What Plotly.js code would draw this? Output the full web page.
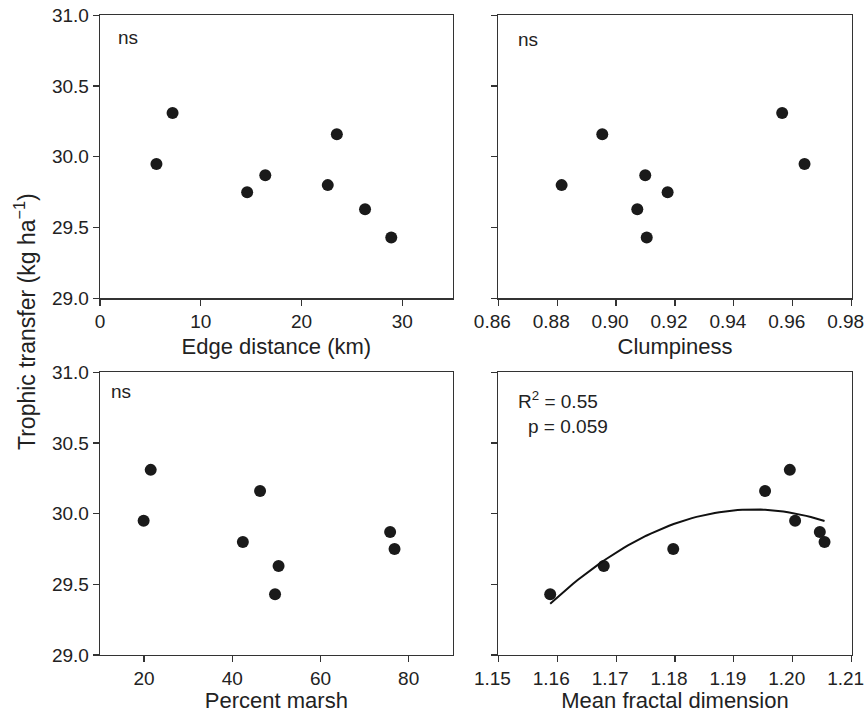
<!DOCTYPE html>
<html>
<head>
<meta charset="utf-8">
<script src="https://cdn.plot.ly/plotly-3.0.1.min.js"></script>
<style>html,body{margin:0;padding:0;background:#fff;}#chart{width:865px;height:713px;}</style>
</head>
<body>
<div id="chart"></div>
<script>
// Trophic transfer (kg ha^-1) for the 8 sites, paired with each landscape metric
const edgeDistance = [5.6, 7.2, 14.6, 16.4, 22.6, 23.5, 26.3, 28.9];
const edgeTransfer = [29.95, 30.31, 29.75, 29.87, 29.80, 30.16, 29.63, 29.43];

const clumpiness = [0.8815, 0.8953, 0.9099, 0.9175, 0.9072, 0.9104, 0.9564, 0.9640];
const clumpTransfer = [29.80, 30.16, 29.87, 29.75, 29.63, 29.43, 30.31, 29.95];

const percentMarsh = [21.5, 19.9, 46.3, 42.4, 50.5, 49.7, 75.8, 76.8];
const marshTransfer = [30.31, 29.95, 30.16, 29.80, 29.63, 29.43, 29.87, 29.75];

const fractalDim = [1.1588, 1.1679, 1.1797, 1.1953, 1.1995, 1.2004, 1.2046, 1.2054];
const fractalTransfer = [29.43, 29.63, 29.75, 30.16, 30.31, 29.95, 29.87, 29.80];

const yTicks = [29.0, 29.5, 30.0, 30.5, 31.0];
const edgeTicks = [0, 10, 20, 30];
const clumpTicks = [0.86, 0.88, 0.90, 0.92, 0.94, 0.96, 0.98];
const marshTicks = [20, 40, 60, 80];
const fractalTicks = [1.15, 1.16, 1.17, 1.18, 1.19, 1.20, 1.21];

// Quadratic least-squares fit of transfer on fractal dimension
function quadFit(xs, ys) {
  const n = xs.length;
  const xm = xs.reduce((a, b) => a + b, 0) / n;
  let S = [0,0,0,0,0], T = [0,0,0];
  for (let i = 0; i < n; i++) {
    const u = xs[i] - xm;
    for (let k = 0; k < 5; k++) S[k] += Math.pow(u, k);
    for (let k = 0; k < 3; k++) T[k] += ys[i] * Math.pow(u, k);
  }
  const A = [[S[0],S[1],S[2],T[0]],[S[1],S[2],S[3],T[1]],[S[2],S[3],S[4],T[2]]];
  for (let c = 0; c < 3; c++) {
    for (let r = c + 1; r < 3; r++) {
      const f = A[r][c] / A[c][c];
      for (let k = c; k < 4; k++) A[r][k] -= f * A[c][k];
    }
  }
  const b = [0,0,0];
  for (let r = 2; r >= 0; r--) {
    let s = A[r][3];
    for (let k = r + 1; k < 3; k++) s -= A[r][k] * b[k];
    b[r] = s / A[r][r];
  }
  return x => b[0] + b[1]*(x - xm) + b[2]*(x - xm)*(x - xm);
}
const fit = quadFit(fractalDim, fractalTransfer);
const fxMin = Math.min(...fractalDim), fxMax = Math.max(...fractalDim);
const fitX = [], fitY = [];
for (let i = 0; i <= 60; i++) {
  const x = fxMin + (fxMax - fxMin) * i / 60;
  fitX.push(x); fitY.push(fit(x));
}

const marker = {size: 12, color: '#1a1a1a'};
const traces = [
  {x: edgeDistance, y: edgeTransfer, xaxis: 'x', yaxis: 'y', mode: 'markers', type: 'scatter', marker: marker},
  {x: clumpiness, y: clumpTransfer, xaxis: 'x2', yaxis: 'y2', mode: 'markers', type: 'scatter', marker: marker},
  {x: percentMarsh, y: marshTransfer, xaxis: 'x3', yaxis: 'y3', mode: 'markers', type: 'scatter', marker: marker},
  {x: fractalDim, y: fractalTransfer, xaxis: 'x4', yaxis: 'y4', mode: 'markers', type: 'scatter', marker: marker},
  {x: fitX, y: fitY, xaxis: 'x4', yaxis: 'y4', mode: 'lines', type: 'scatter', line: {color: '#111', width: 2}}
];

const fam = 'Liberation Sans, Arial, sans-serif';
const tickFont = {family: fam, size: 19, color: '#222'};
const titleFont = {family: fam, size: 22, color: '#222'};
const annFont = {family: fam, size: 19, color: '#222'};

function xa(domain, range, tickvals, fmt, title, anchor, shift) {
  return {domain: domain, range: range, tickvals: tickvals, tickformat: fmt, anchor: anchor,
    showline: true, mirror: true, linecolor: '#333', linewidth: 1.3, ticks: 'outside', ticklen: 6,
    tickcolor: '#333', tickwidth: 1.2, showgrid: false, zeroline: false, tickfont: tickFont,
    ticklabeloverflow: 'allow', ticklabelshift: shift,
    title: {text: title, font: titleFont, standoff: 7}, fixedrange: true};
}
function ya(domain, labels, anchor) {
  return {domain: domain, range: [28.9999, 31.0001], tickvals: yTicks, tickformat: '.1f', anchor: anchor,
    showticklabels: labels, showline: true, mirror: true, linecolor: '#333', linewidth: 1.3,
    ticks: 'outside', ticklen: 6, tickcolor: '#333', tickwidth: 1.2, showgrid: false,
    zeroline: false, tickfont: tickFont, ticklabeloverflow: 'allow', fixedrange: true};
}

const xL = [0.1156, 0.5234], xR = [0.5761, 0.9846];
const yT = [0.5816, 0.9785], yB = [0.0813, 0.4778];

const layout = {
  width: 865, height: 713,
  margin: {l: 0, r: 0, t: 0, b: 0},
  paper_bgcolor: '#fff', plot_bgcolor: '#fff',
  showlegend: false,
  font: {family: fam, color: '#222'},
  xaxis: xa(xL, [0, 35], edgeTicks, 'd', 'Edge distance (km)', 'y', 0),
  yaxis: ya(yT, true, 'x'),
  xaxis2: xa(xR, [0.86, 0.98001], clumpTicks, '.2f', 'Clumpiness', 'y2', -6),
  yaxis2: ya(yT, false, 'x2'),
  xaxis3: xa(xL, [10, 90], marshTicks, 'd', 'Percent marsh', 'y3', 0),
  yaxis3: ya(yB, true, 'x3'),
  xaxis4: xa(xR, [1.14999, 1.21001], fractalTicks, '.2f', 'Mean fractal dimension', 'y4', -6),
  yaxis4: ya(yB, false, 'x4'),
  annotations: [
    {text: 'ns', xref: 'x domain', yref: 'y domain', x: 0.045, y: 0.923, xanchor: 'left', yanchor: 'middle', showarrow: false, font: annFont},
    {text: 'ns', xref: 'x2 domain', yref: 'y2 domain', x: 0.05, y: 0.916, xanchor: 'left', yanchor: 'middle', showarrow: false, font: annFont},
    {text: 'ns', xref: 'x3 domain', yref: 'y3 domain', x: 0.026, y: 0.931, xanchor: 'left', yanchor: 'middle', showarrow: false, font: annFont},
    {text: 'R<sup>2</sup> = 0.55', xref: 'x4 domain', yref: 'y4 domain', x: 0.05, y: 0.902, xanchor: 'left', yanchor: 'middle', showarrow: false, font: annFont},
    {text: 'p = 0.059', xref: 'x4 domain', yref: 'y4 domain', x: 0.078, y: 0.81, xanchor: 'left', yanchor: 'middle', showarrow: false, font: annFont},
    {text: 'Trophic transfer (kg ha<sup>\u22121</sup>)', xref: 'paper', yref: 'paper', x: 25/865, y: 1 - 322/713, xanchor: 'center', yanchor: 'middle', textangle: -90, showarrow: false, font: {family: fam, size: 23, color: '#222'}}
  ]
};

Plotly.newPlot('chart', traces, layout, {staticPlot: true, displayModeBar: false});
</script>
</body>
</html>
